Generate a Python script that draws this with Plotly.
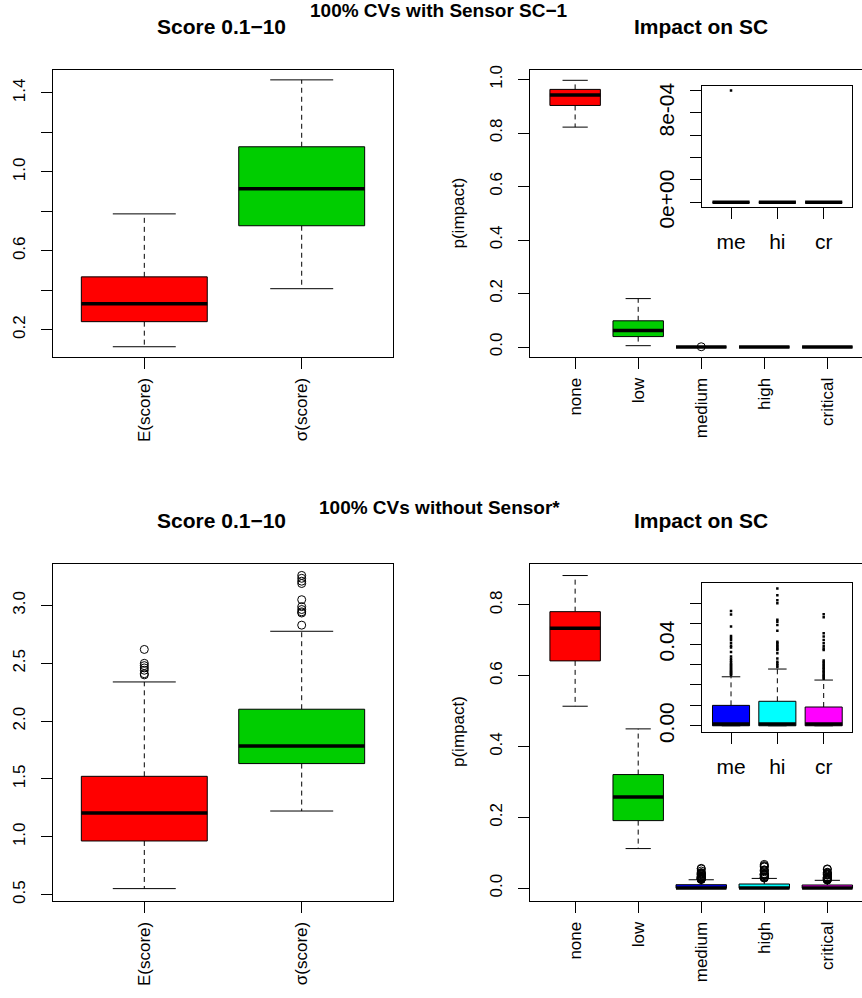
import plotly.graph_objects as go

# ---------------- data ----------------
score_labels = ["E(score)", "σ(score)"]
impact_labels = ["none", "low", "medium", "high", "critical"]
inset_labels = ["me", "hi", "cr"]

score_colors = ["#FF0000", "#00CD00"]
impact_colors = ["#FF0000", "#00CD00", "#0000FF", "#00FFFF", "#FF00FF"]
inset_colors = ["#0000FF", "#00FFFF", "#FF00FF"]

# Top row: 100% CVs with Sensor SC-1
score1_low = [0.114, 0.408]
score1_q1 = [0.241, 0.727]
score1_med = [0.332, 0.914]
score1_q3 = [0.468, 1.127]
score1_high = [0.787, 1.466]
score1_out = [[], []]

impact1_low = [0.822, 0.005, 0.0, 0.0, 0.0]
impact1_q1 = [0.903, 0.039, 0.0, 0.0, 0.0]
impact1_med = [0.942, 0.062, 0.0, 0.0, 0.0]
impact1_q3 = [0.963, 0.098, 0.0, 0.0, 0.0]
impact1_high = [0.997, 0.181, 0.0, 0.0, 0.0]
impact1_out = [[], [], [0.001], [], []]

inset1_low = [0.0, 0.0, 0.0]
inset1_q1 = [0.0, 0.0, 0.0]
inset1_med = [0.0, 0.0, 0.0]
inset1_q3 = [0.0, 0.0, 0.0]
inset1_high = [0.0, 0.0, 0.0]
inset1_out = [[0.001], [], []]

# Bottom row: 100% CVs without Sensor*
score2_low = [0.552, 1.223]
score2_q1 = [0.964, 1.633]
score2_med = [1.206, 1.785]
score2_q3 = [1.523, 2.103]
score2_high = [2.339, 2.777]
score2_out = [[2.62, 2.50, 2.48, 2.46, 2.44, 2.41, 2.40],
              [3.26, 3.235, 3.21, 3.19, 3.05, 2.99, 2.965, 2.945, 2.935, 2.83]]

out_medium = [0.0562, 0.0545, 0.0487, 0.0440, 0.0430, 0.0420, 0.0405, 0.0392, 0.0383, 0.0362,
              0.0340, 0.0328, 0.0318, 0.0310, 0.0303, 0.0296, 0.0290, 0.0284, 0.0278, 0.0272,
              0.0267, 0.0262, 0.0257, 0.0252, 0.0247]
out_high = [0.0673, 0.0640, 0.0615, 0.0600, 0.0520, 0.0510, 0.0494, 0.0466, 0.0412, 0.0405,
            0.0398, 0.0391, 0.0384, 0.0377, 0.0371, 0.0355, 0.0330, 0.0314, 0.0305, 0.0296, 0.0288]
out_critical = [0.0546, 0.0532, 0.0453, 0.0438, 0.0420, 0.0404, 0.0390, 0.0379, 0.0371, 0.0320,
                0.0312, 0.0305, 0.0298, 0.0291, 0.0284, 0.0277, 0.0270, 0.0263, 0.0256, 0.0249,
                0.0243, 0.0237, 0.0231]

impact2_low = [0.514, 0.112, 0.0, 0.0, 0.0]
impact2_q1 = [0.642, 0.191, 0.0, 0.0, 0.0]
impact2_med = [0.734, 0.258, 0.0009, 0.0009, 0.0009]
impact2_q3 = [0.781, 0.321, 0.0100, 0.0120, 0.0092]
impact2_high = [0.883, 0.450, 0.0240, 0.0278, 0.0224]
impact2_out = [[], [], out_medium, out_high, out_critical]

inset2_low = impact2_low[2:]
inset2_q1 = impact2_q1[2:]
inset2_med = impact2_med[2:]
inset2_q3 = impact2_q3[2:]
inset2_high = impact2_high[2:]
inset2_out = impact2_out[2:]

# ---------------- layout helpers ----------------
W, H = 862, 998
FONT = "Liberation Sans, Arial, Helvetica, sans-serif"


def fx(p):
    return p / W


def fy(p):
    return 1 - p / H


fig = go.Figure()


def add_boxplot(xa, ya, lows, q1s, meds, q3s, highs, colors, outs, dots=False):
    half, staple = 0.4, 0.2
    wx, wy, sx, sy, mx, my = [], [], [], [], [], []
    for i in range(len(meds)):
        c = i + 1
        if highs[i] > q3s[i]:
            wx += [c, c, None]
            wy += [q3s[i], highs[i], None]
        if lows[i] < q1s[i]:
            wx += [c, c, None]
            wy += [q1s[i], lows[i], None]
        sx += [c - staple, c + staple, None, c - staple, c + staple, None]
        sy += [highs[i], highs[i], None, lows[i], lows[i], None]
    if wx:
        fig.add_trace(go.Scatter(x=wx, y=wy, mode="lines", xaxis=xa, yaxis=ya,
                                 line=dict(color="black", width=1, dash="5px,4px"),
                                 hoverinfo="skip", showlegend=False))
    fig.add_trace(go.Scatter(x=sx, y=sy, mode="lines", xaxis=xa, yaxis=ya,
                             line=dict(color="black", width=1),
                             hoverinfo="skip", showlegend=False))
    for i in range(len(meds)):
        c = i + 1
        fig.add_trace(go.Scatter(
            x=[c - half, c + half, c + half, c - half, c - half],
            y=[q1s[i], q1s[i], q3s[i], q3s[i], q1s[i]],
            mode="lines", fill="toself", fillcolor=colors[i],
            line=dict(color="black", width=1), xaxis=xa, yaxis=ya,
            hoverinfo="skip", showlegend=False))
        mx += [c - half, c + half, None]
        my += [meds[i], meds[i], None]
    fig.add_trace(go.Scatter(x=mx, y=my, mode="lines", xaxis=xa, yaxis=ya,
                             line=dict(color="black", width=3.5),
                             hoverinfo="skip", showlegend=False))
    ox, oy = [], []
    for i, o in enumerate(outs):
        ox += [i + 1] * len(o)
        oy += list(o)
    if ox:
        if dots:
            marker = dict(symbol="square", size=2.5, color="black")
        else:
            marker = dict(symbol="circle-open", size=8, color="black", line=dict(width=1, color="black"))
        fig.add_trace(go.Scatter(x=ox, y=oy, mode="markers", xaxis=xa, yaxis=ya,
                                 marker=marker, hoverinfo="skip", showlegend=False))


add_boxplot("x", "y", score1_low, score1_q1, score1_med, score1_q3, score1_high, score_colors, score1_out)
add_boxplot("x2", "y2", impact1_low, impact1_q1, impact1_med, impact1_q3, impact1_high, impact_colors, impact1_out)
add_boxplot("x3", "y3", inset1_low, inset1_q1, inset1_med, inset1_q3, inset1_high, inset_colors, inset1_out, dots=True)
add_boxplot("x4", "y4", score2_low, score2_q1, score2_med, score2_q3, score2_high, score_colors, score2_out)
add_boxplot("x5", "y5", impact2_low, impact2_q1, impact2_med, impact2_q3, impact2_high, impact_colors, impact2_out)
add_boxplot("x6", "y6", inset2_low, inset2_q1, inset2_med, inset2_q3, inset2_high, inset_colors, inset2_out, dots=True)

tickfont = dict(family=FONT, size=17, color="black")
insetfont = dict(family=FONT, size=21, color="black")


def xaxis(dom, rng, labels, anchor, font, angle, mirror=True, standoff=2):
    return dict(domain=dom, range=rng, anchor=anchor, tickmode="array",
                tickvals=list(range(1, len(labels) + 1)), ticktext=labels,
                tickangle=angle, ticks="outside", ticklen=11, tickcolor="black",
                tickfont=font, showline=True, linecolor="black", linewidth=1,
                mirror=mirror, showgrid=False, zeroline=False, automargin=False,
                ticklabelstandoff=standoff)


def yaxis(dom, rng, vals, text, anchor, font, mirror=True, standoff=9):
    return dict(domain=dom, range=rng, anchor=anchor, tickmode="array",
                tickvals=vals, ticktext=text, tickangle=-90, ticks="outside",
                ticklen=11, tickcolor="black", tickfont=font, showline=True,
                linecolor="black", linewidth=1, mirror=mirror, showgrid=False,
                zeroline=False, automargin=False, ticklabelstandoff=standoff)


top = [fy(357), fy(70)]
bot = [fy(901), fy(563.5)]
left = [fx(53), fx(393)]
right = [fx(530), 1.0]
ins_x = [fx(702.3), fx(852.4)]
ins1_y = [fy(206.7), fy(86)]
ins2_y = [fy(731.7), fy(582.7)]

score_xr = [0.42, 2.58]
impact_xr = [0.284, 5.55]
inset_xr = [0.38, 3.62]

fig.update_layout(
    width=W, height=H, margin=dict(l=0, r=0, t=0, b=0, autoexpand=False),
    paper_bgcolor="white", plot_bgcolor="rgba(0,0,0,0)", showlegend=False,
    font=dict(family=FONT, color="black"),
    xaxis=xaxis(left, score_xr, score_labels, "y", tickfont, -90),
    yaxis=yaxis(top, [0.062, 1.516], [0.2, 0.4, 0.6, 0.8, 1.0, 1.2, 1.4],
                ["0.2", "", "0.6", "", "1.0", "", "1.4"], "x", tickfont),
    xaxis2=xaxis(right, impact_xr, impact_labels, "y2", tickfont, -90),
    yaxis2=yaxis(top, [-0.0373, 1.0355], [0.0, 0.2, 0.4, 0.6, 0.8, 1.0],
                 ["0.0", "0.2", "0.4", "0.6", "0.8", "1.0"], "x2", tickfont, mirror=False),
    xaxis3=xaxis(ins_x, inset_xr, inset_labels, "y3", insetfont, 0, standoff=5),
    yaxis3=yaxis(ins1_y, [-0.00004, 0.00104], [0, 0.0002, 0.0004, 0.0006, 0.0008, 0.001],
                 ["0e+00", "", "", "", "8e-04", ""], "x3", insetfont, standoff=8),
    xaxis4=xaxis(left, score_xr, score_labels, "y4", tickfont, -90),
    yaxis4=yaxis(bot, [0.445, 3.363], [0.5, 1.0, 1.5, 2.0, 2.5, 3.0],
                 ["0.5", "1.0", "1.5", "2.0", "2.5", "3.0"], "x4", tickfont),
    xaxis5=xaxis(right, impact_xr, impact_labels, "y5", tickfont, -90),
    yaxis5=yaxis(bot, [-0.036, 0.917], [0.0, 0.2, 0.4, 0.6, 0.8],
                 ["0.0", "0.2", "0.4", "0.6", "0.8"], "x5", tickfont, mirror=False),
    xaxis6=xaxis(ins_x, inset_xr, inset_labels, "y6", insetfont, 0, standoff=5),
    yaxis6=yaxis(ins2_y, [-0.0029, 0.0701], [0, 0.01, 0.02, 0.03, 0.04, 0.05, 0.06],
                 ["0.00", "", "", "", "0.04", "", ""], "x6", insetfont, standoff=8),
)

ann = []


def title(text, xp, yp, size):
    ann.append(dict(text=text, x=fx(xp), y=fy(yp), xref="paper", yref="paper",
                    xanchor="center", yanchor="middle", showarrow=False,
                    font=dict(family=FONT, size=size, color="black")))


title("<b>100% CVs with Sensor SC−1</b>", 439, 11, 19)
title("<b>Score 0.1−10</b>", 222, 27, 21)
title("<b>Impact on SC</b>", 701, 27, 21)
title("<b>100% CVs without Sensor*</b>", 439, 508, 19)
title("<b>Score 0.1−10</b>", 222, 520, 21)
title("<b>Impact on SC</b>", 701, 520, 21)

for yc in [213.5, 732]:
    ann.append(dict(text="p(impact)", x=fx(458), y=fy(yc), xref="paper", yref="paper",
                    xanchor="center", yanchor="middle", textangle=-90, showarrow=False,
                    font=dict(family=FONT, size=17, color="black")))

fig.update_layout(annotations=ann)
fig.write_html("out.html", config={"displayModeBar": False},
               post_script="document.body.style.margin='0';document.body.style.padding='0';"
                           "document.documentElement.style.overflow='hidden';")
